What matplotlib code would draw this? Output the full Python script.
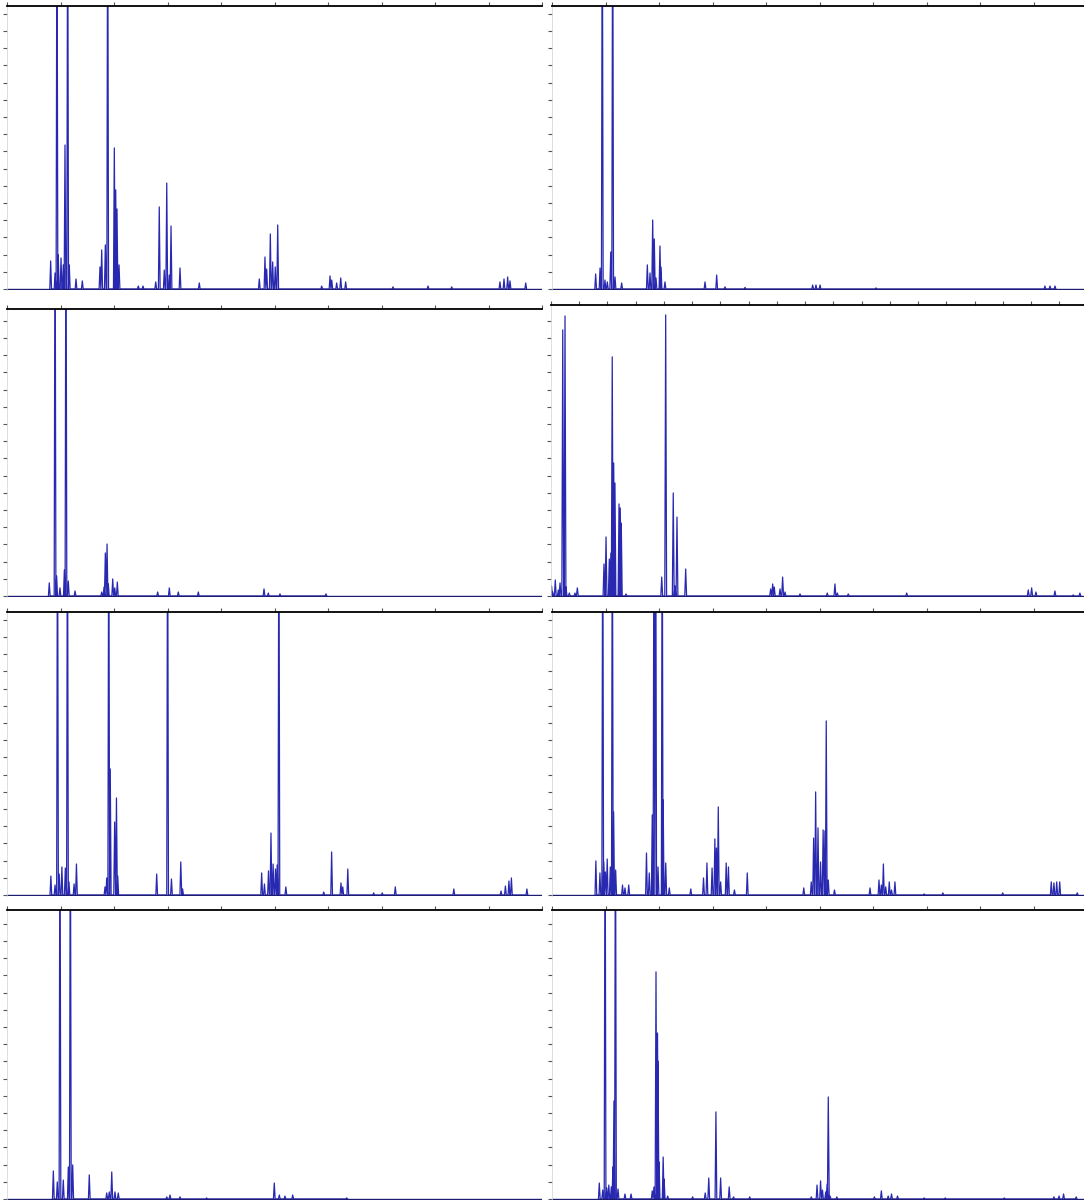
import numpy as np
import matplotlib
matplotlib.use("Agg")
import matplotlib.pyplot as plt

# retention time (min) and intensity of the peaks
# intensity 25 = peak running off the top of the frame
p1_rt = [4.08, 4.49, 4.67, 4.79, 5.05, 5.26, 5.42, 5.67, 5.82, 6.45, 7.04,
         8.69, 8.85, 9.19, 9.41, 10.03, 10.16, 10.28, 10.47,
         12.27, 12.71, 13.90, 14.23, 14.70, 14.93, 15.17, 15.33, 16.17, 17.97,
         23.58, 24.11, 24.27, 24.61, 24.83, 25.07, 25.30,
         29.41, 30.19, 30.35, 30.81, 31.19, 31.65, 36.07, 39.35, 41.56,
         46.07, 46.45, 46.79, 47.01, 48.48]
p1_int = [1.63, 0.93, 25, 1.98, 1.80, 1.40, 8.37, 25, 1.40, 0.58, 0.47,
          1.28, 2.27, 2.56, 25, 8.20, 5.76, 4.65, 1.40,
          0.17, 0.17, 0.41, 4.77, 1.10, 6.16, 0.81, 3.66, 1.22, 0.35,
          0.58, 1.86, 1.16, 3.20, 1.57, 1.28, 3.72,
          0.17, 0.76, 0.52, 0.35, 0.64, 0.41, 0.12, 0.17, 0.12,
          0.41, 0.58, 0.70, 0.47, 0.35]

p2_rt = [4.08, 4.49, 4.70, 4.95, 5.17, 5.49, 5.67, 5.89, 6.51,
         8.91, 9.16, 9.41, 9.56, 9.72, 10.09, 10.19, 10.56,
         14.30, 15.39, 16.17, 18.04, 24.36, 24.67, 25.05, 30.28,
         46.07, 46.54, 47.01]
p2_int = [0.87, 1.22, 25, 0.52, 0.41, 2.15, 25, 0.70, 0.35,
          1.40, 0.93, 4.01, 2.91, 0.64, 2.50, 1.28, 0.41,
          0.41, 0.81, 0.12, 0.09, 0.23, 0.23, 0.23, 0.06,
          0.17, 0.17, 0.17]

p3_rt = [3.95, 4.49, 4.64, 4.95, 5.36, 5.51, 5.73, 6.36,
         8.85, 9.07, 9.19, 9.35, 9.47, 9.88, 10.07, 10.31,
         14.08, 15.17, 16.01, 17.88, 24.02, 24.42, 25.51, 29.81]
p3_int = [0.76, 25, 1.16, 0.47, 1.51, 25, 0.87, 0.29,
          0.23, 0.52, 2.50, 3.02, 0.70, 0.99, 0.47, 0.81,
          0.23, 0.47, 0.23, 0.23, 0.41, 0.17, 0.12, 0.12]

# this run was recorded on a different time base (tick every 2.5 min)
p4_rt = [0.05, 0.15, 0.38, 0.65, 0.80, 1.04, 1.24, 1.33, 1.62, 2.12, 2.33,
         4.69, 4.87, 5.16, 5.31, 5.42, 5.55, 5.66, 6.02, 6.13, 6.22, 6.64,
         9.80, 10.15, 10.82, 10.97, 11.15, 11.92,
         19.44, 19.62, 19.76, 20.27, 20.50, 20.71, 22.04,
         24.45, 25.13, 25.34, 26.31, 31.48,
         42.24, 42.54, 42.92, 44.60, 46.22, 46.81]
p4_int = [0.58, 0.23, 0.93, 0.35, 0.76, 15.47, 16.28, 0.52, 0.17, 0.17, 0.47,
          1.86, 3.43, 2.15, 2.50, 13.90, 7.73, 6.57, 5.35, 5.12, 4.24, 0.12,
          1.10, 16.34, 5.99, 0.58, 4.59, 1.57,
          0.41, 0.70, 0.52, 0.41, 1.10, 0.23, 0.12,
          0.17, 0.70, 0.17, 0.12, 0.17,
          0.35, 0.47, 0.23, 0.29, 0.06, 0.17]

p5_rt = [4.10, 4.49, 4.72, 4.88, 5.13, 5.45, 5.65, 5.79, 6.27, 6.49,
         9.16, 9.32, 9.51, 9.65, 10.06, 10.23, 10.35,
         13.99, 15.01, 15.37, 16.24, 16.41,
         23.80, 24.06, 24.44, 24.67, 24.87, 25.09, 25.25, 25.41, 26.06,
         29.60, 30.34, 31.21, 31.38, 31.85, 34.27, 35.07, 36.29, 41.76,
         46.17, 46.58, 46.91, 47.14, 48.59]
p5_int = [1.10, 0.58, 25, 1.22, 1.63, 1.57, 25, 0.76, 0.64, 1.80,
          0.47, 0.99, 25, 7.33, 4.24, 5.64, 1.10,
          1.22, 25, 0.93, 1.92, 0.35,
          1.28, 0.64, 1.40, 3.60, 1.80, 1.51, 1.74, 25, 0.47,
          0.17, 2.50, 0.70, 0.47, 1.51, 0.12, 0.12, 0.47, 0.35,
          0.23, 0.52, 0.81, 0.99, 0.35]

p6_rt = [4.10, 4.48, 4.74, 4.83, 4.99, 5.16, 5.45, 5.64, 5.76, 5.95, 6.59, 6.82, 7.17,
         8.83, 9.09, 9.37, 9.53, 9.69, 9.91, 10.30, 10.39, 10.63, 10.96,
         12.97, 14.16, 14.48, 14.96, 15.22, 15.37, 15.54, 15.76, 16.28, 16.49, 17.05, 18.25,
         23.53, 24.23, 24.45, 24.64, 24.86, 25.10, 25.34, 25.51, 25.63, 25.82, 26.40,
         29.72, 30.56, 30.78, 30.97, 31.19, 31.52, 31.73, 32.05, 34.78, 36.53, 42.12,
         46.66, 46.91, 47.17, 47.45, 49.09]
p6_int = [1.98, 1.28, 25, 1.92, 1.34, 2.09, 1.63, 25, 4.83, 1.45, 0.58, 0.41, 0.58,
          2.44, 1.28, 4.65, 25, 25, 1.63, 25, 5.52, 1.86, 0.41,
          0.35, 0.99, 1.86, 1.57, 3.26, 2.73, 5.12, 0.76, 1.86, 1.63, 0.29, 1.28,
          0.41, 0.76, 3.31, 5.99, 3.90, 1.92, 3.78, 3.72, 10.12, 0.87, 0.29,
          0.41, 0.87, 0.58, 1.80, 0.47, 0.76, 0.29, 0.76, 0.06, 0.12, 0.12,
          0.76, 0.70, 0.76, 0.76, 0.12]

p7_rt = [4.33, 4.70, 4.95, 5.26, 5.73, 5.92, 6.14, 7.69,
         9.32, 9.56, 9.79, 10.09, 10.40,
         14.93, 15.23, 16.17, 18.66, 24.98, 25.45, 25.98, 26.70, 31.75]
p7_int = [1.63, 0.99, 25, 1.10, 1.86, 25, 1.98, 1.40,
          0.35, 0.41, 1.57, 0.41, 0.35,
          0.12, 0.23, 0.12, 0.06, 0.93, 0.23, 0.17, 0.23, 0.06]

p8_rt = [4.42, 4.74, 4.96, 5.12, 5.31, 5.54, 5.69, 5.79, 5.93, 6.17, 6.82, 7.39,
         9.37, 9.53, 9.72, 9.86, 9.91, 10.01, 10.39, 10.48, 10.81,
         13.14, 14.32, 14.65, 15.32, 15.76, 16.56, 16.97, 18.48,
         24.23, 24.77, 25.10, 25.28, 25.58, 25.72, 25.82, 25.99, 26.62,
         30.13, 30.78, 31.42, 31.73, 32.29, 34.78, 36.75, 42.27,
         46.91, 47.39, 47.81, 48.99]
p8_int = [0.93, 0.52, 25, 0.64, 0.81, 0.70, 1.86, 5.70, 25, 0.58, 0.29, 0.29,
          0.47, 0.70, 13.20, 9.65, 8.02, 2.15, 2.44, 1.16, 0.17,
          0.12, 0.35, 1.22, 5.06, 1.22, 0.70, 0.12, 0.12,
          0.12, 0.81, 1.05, 0.52, 0.41, 0.87, 5.93, 0.17, 0.12,
          0.12, 0.47, 0.17, 0.29, 0.17, 0.06, 0.06, 0.06,
          0.12, 0.17, 0.29, 0.12]

runs = [(p1_rt, p1_int), (p2_rt, p2_int), (p3_rt, p3_int), (p4_rt, p4_int),
        (p5_rt, p5_int), (p6_rt, p6_int), (p7_rt, p7_int), (p8_rt, p8_int)]

W, H = 1084, 1200
# panel frames in pixels: left, top, right, bottom
frames = [(7, 6, 542, 290), (552, 6, 1087, 290),
          (7, 309, 542, 597), (551, 305, 1086, 597),
          (7, 612, 542, 896), (552, 612, 1087, 896),
          (7, 910, 542, 1200), (552, 910, 1087, 1200)]
px_per_unit = 17.2


def trace(rt, inten, w=0.08):
    xs, ys = [], []
    for x, y in sorted(zip(rt, inten)):
        xs += [x - w, x, x + w]
        ys += [0, y, 0]
    return xs, ys


fig = plt.figure(figsize=(W / 100, H / 100), dpi=100)
for i, ((rt, inten), (l, t, r, b)) in enumerate(zip(runs, frames)):
    ax = fig.add_axes([l / W, 1 - b / H, (r - l) / W, (b - t) / H])
    xmax = 47.35 if i == 3 else 50
    step = 2.5 if i == 3 else 5
    xs, ys = trace(rt, inten)
    ax.plot(xs, ys, color='#2828b0', lw=0.9)
    ax.axhline(0, color='#1c1c72', lw=1.0)
    ax.set_xlim(0, xmax)
    ax.set_ylim(-0.06, (b - t) / px_per_unit - 0.06)
    ax.set_xticks(np.arange(0, xmax + 0.01, step))
    ax.set_yticks(np.arange(0, 17, 1))
    ax.xaxis.tick_top()
    ax.tick_params(axis='x', direction='out', length=3, width=0.8, color='#555555',
                   labeltop=False, labelbottom=False)
    ax.tick_params(axis='y', direction='out', length=3, width=0.8, color='#555555',
                   labelleft=False)
    ax.spines['bottom'].set_visible(False)
    ax.spines['right'].set_visible(False)
    ax.spines['top'].set_linewidth(1.3)
    ax.spines['top'].set_color('black')
    ax.spines['left'].set_linewidth(0.5)
    ax.spines['left'].set_color('#cfcfd8')
    ax.set_facecolor('white')

fig.savefig('out.png', dpi=100)
